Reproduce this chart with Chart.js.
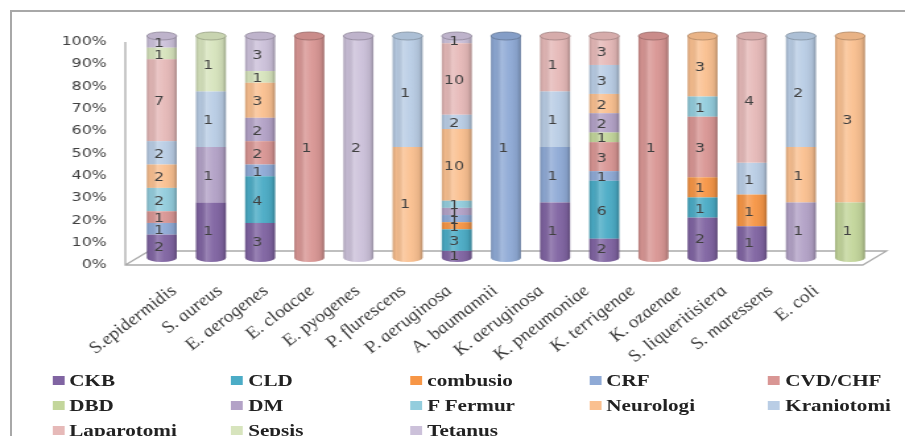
<!DOCTYPE html>
<html>
<head>
<meta charset="utf-8">
<script src="https://cdn.jsdelivr.net/npm/chart.js@4/dist/chart.umd.min.js"></script>
<style>
  html, body { margin: 0; padding: 0; background: #fff; overflow: hidden; width: 905px; height: 436px; }
  #frame { position: absolute; left: 10px; top: 10px; width: 1000px; height: 1000px;
           border-left: 2px solid #A8A8A8; border-top: 2px solid #A8A8A8; }
  #stage { position: absolute; left: 0; top: 0; width: 686px; height: 436px;
           transform-origin: 0 0; transform: scaleX(1.3192); }
  #chart { position: absolute; left: 0; top: 0; }
  #legend { position: absolute; left: 0; top: 0; width: 686px; height: 436px;
            font: bold 16px "Liberation Serif", serif; color: #222; }
  .item { position: absolute; white-space: nowrap; height: 20px; line-height: 20px; }
  .sw { position: absolute; left: 0; top: 5px; width: 9px; height: 9px; }
  .tx { position: absolute; left: 13px; top: 0; }
</style>
</head>
<body>
<div id="frame"></div>
<div id="stage">
  <canvas id="chart" width="686" height="436"></canvas>
  <div id="legend"></div>
</div>
<script>
// Bacteria isolated, split by patient group (counts per group)
const categories = ['S.epidermidis', 'S. aureus', 'E. aerogenes', 'E. cloacae', 'E. pyogenes',
  'P. flurescens', 'P. aeruginosa', 'A. baumannii', 'K. aeruginosa', 'K. pneumoniae',
  'K. terrigenae', 'K. ozaenae', 'S. liqueritisiera', 'S. maressens', 'E. coli'];

const CKB        = [2, 1, 3, 0, 0, 0, 1, 0, 1, 2, 0, 2, 1, 0, 0];
const CLD        = [0, 0, 4, 0, 0, 0, 3, 0, 0, 6, 0, 1, 0, 0, 0];
const combusio   = [0, 0, 0, 0, 0, 0, 1, 0, 0, 0, 0, 1, 1, 0, 0];
const CRF        = [1, 0, 1, 0, 0, 0, 1, 1, 1, 1, 0, 0, 0, 0, 0];
const CVD_CHF    = [1, 0, 2, 1, 0, 0, 0, 0, 0, 3, 1, 3, 0, 0, 0];
const DBD        = [0, 0, 0, 0, 0, 0, 0, 0, 0, 1, 0, 0, 0, 0, 1];
const DM         = [0, 1, 2, 0, 0, 0, 1, 0, 0, 2, 0, 0, 0, 1, 0];
const F_Fermur   = [2, 0, 0, 0, 0, 0, 1, 0, 0, 0, 0, 1, 0, 0, 0];
const Neurologi  = [2, 0, 3, 0, 0, 1, 10, 0, 0, 2, 0, 3, 0, 1, 3];
const Kraniotomi = [2, 1, 0, 0, 0, 1, 2, 0, 1, 3, 0, 0, 1, 2, 0];
const Laparotomi = [7, 0, 0, 0, 0, 0, 10, 0, 1, 3, 0, 0, 4, 0, 0];
const Sepsis     = [1, 1, 1, 0, 0, 0, 0, 0, 0, 0, 0, 0, 0, 0, 0];
const Tetanus    = [1, 0, 3, 0, 2, 0, 1, 0, 0, 0, 0, 0, 0, 0, 0];

const seriesNames = ['CKB', 'CLD', 'combusio', 'CRF', 'CVD/CHF', 'DBD', 'DM', 'F Fermur',
  'Neurologi', 'Kraniotomi', 'Laparotomi', 'Sepsis', 'Tetanus'];
const seriesValues = [CKB, CLD, combusio, CRF, CVD_CHF, DBD, DM, F_Fermur,
  Neurologi, Kraniotomi, Laparotomi, Sepsis, Tetanus];
const seriesColors = ['#8064A2', '#4BACC6', '#F79646', '#8FAAD6', '#D99694', '#C3D69B', '#B3A2C7',
  '#93CDDD', '#FAC090', '#B9CDE5', '#E6B9B8', '#D7E4BD', '#CCC1DA'];

const percentTicks = [0, 10, 20, 30, 40, 50, 60, 70, 80, 90, 100];

// column totals, used to turn counts into shares of 100%
const totals = categories.map((_, i) => seriesValues.reduce((s, arr) => s + arr[i], 0));

// floor depth of the 3-D box and the height of the cylinder end caps
const depth = { dx: 18, dy: 14 };
const capRy = 4;
const labelShift = 0.235;

function mix(hex, target, t) {
  const p = h => [1, 3, 5].map(o => parseInt(h.slice(o, o + 2), 16));
  const a = p(hex), b = p(target);
  const c = a.map((v, j) => Math.round(v + (b[j] - v) * t));
  return `rgb(${c[0]},${c[1]},${c[2]})`;
}

const floorBox = {
  id: 'floorBox',
  beforeDatasetsDraw(chart) {
    const { ctx, chartArea: a, scales: { y } } = chart;
    const yTop = y.getPixelForValue(100), yBot = y.getPixelForValue(0);
    const fl = a.left - depth.dx / 2, fr = a.right - depth.dx / 2;
    const bl = a.left + depth.dx / 2, br = a.right + depth.dx / 2;
    const by = yBot - depth.dy;
    ctx.save();
    ctx.strokeStyle = '#ABABAB';
    ctx.lineWidth = 1.3;
    ctx.beginPath();
    ctx.moveTo(fl, yTop);
    ctx.lineTo(fl, yBot);
    ctx.lineTo(fr, yBot);
    ctx.lineTo(br, by);
    ctx.lineTo(bl, by);
    ctx.lineTo(fl, yBot);
    ctx.stroke();
    ctx.restore();
  }
};

const cylinders = {
  id: 'cylinders',
  afterDatasetsDraw(chart) {
    const ctx = chart.ctx;
    const sets = chart.data.datasets;
    categories.forEach((_, i) => {
      const parts = [];
      sets.forEach((ds, k) => {
        if (ds.counts[i] > 0) parts.push({ bar: chart.getDatasetMeta(k).data[i], color: ds.backgroundColor });
      });
      if (!parts.length) return;
      const first = parts[0].bar, last = parts[parts.length - 1].bar;
      const cx = first.x, rx = first.width / 2;
      const base = first.base, top = last.y;
      ctx.save();
      // rounded bottom
      ctx.beginPath();
      ctx.ellipse(cx, base, rx, capRy, 0, 0, Math.PI);
      ctx.fillStyle = parts[0].color;
      ctx.fill();
      // side shading of the cylinder
      ctx.beginPath();
      ctx.moveTo(cx - rx, top);
      ctx.lineTo(cx + rx, top);
      ctx.lineTo(cx + rx, base);
      ctx.ellipse(cx, base, rx, capRy, 0, 0, Math.PI);
      ctx.closePath();
      const g = ctx.createLinearGradient(cx - rx, 0, cx + rx, 0);
      g.addColorStop(0, 'rgba(0,0,0,0.16)');
      g.addColorStop(0.12, 'rgba(0,0,0,0.04)');
      g.addColorStop(0.35, 'rgba(255,255,255,0.20)');
      g.addColorStop(0.6, 'rgba(255,255,255,0.04)');
      g.addColorStop(0.88, 'rgba(0,0,0,0.08)');
      g.addColorStop(1, 'rgba(0,0,0,0.26)');
      ctx.fillStyle = g;
      ctx.fill();
      // top cap
      const topColor = parts[parts.length - 1].color;
      ctx.beginPath();
      ctx.ellipse(cx, top, rx, capRy, 0, 0, Math.PI * 2);
      ctx.fillStyle = mix(topColor, '#000000', 0.07);
      ctx.fill();
      ctx.strokeStyle = mix(topColor, '#000000', 0.3);
      ctx.lineWidth = 0.8;
      ctx.stroke();
      ctx.restore();
    });
    // counts written on each segment
    ctx.save();
    ctx.font = '12px "DejaVu Sans"';
    ctx.fillStyle = '#404040';
    ctx.textAlign = 'center';
    ctx.textBaseline = 'middle';
    sets.forEach((ds, k) => {
      chart.getDatasetMeta(k).data.forEach((bar, i) => {
        const n = ds.counts[i];
        if (n > 0) ctx.fillText(String(n), bar.x - 2, (bar.y + bar.base) / 2 + 2);
      });
    });
    ctx.restore();
  }
};

Chart.defaults.font.family = '"DejaVu Sans", sans-serif';

const chart = new Chart(document.getElementById('chart'), {
  type: 'bar',
  data: {
    labels: categories,
    datasets: seriesValues.map((vals, k) => ({
      label: seriesNames[k],
      counts: vals,
      data: vals.map((v, i) => v / totals[i] * 100),
      backgroundColor: seriesColors[k],
      borderWidth: 0,
      barPercentage: 0.61,
      categoryPercentage: 1,
      xAxisID: 'xb',
      yAxisID: 'yb',
      clip: false
    }))
  },
  options: {
    responsive: false,
    animation: false,
    layout: { padding: { top: 42, right: 23, bottom: 0, left: 0 } },
    plugins: { legend: { display: false }, tooltip: { enabled: false } },
    scales: {
      xb: { type: 'category', stacked: true, display: false },
      yb: { type: 'linear', stacked: true, display: false, min: -3.15, max: 97.3 },
      x: {
        type: 'linear', position: 'bottom', bounds: 'data',
        min: -0.5 + labelShift, max: categories.length - 0.5 + labelShift,
        grid: { display: false, drawTicks: false },
        border: { display: false },
        afterBuildTicks: s => { s.ticks = categories.map((_, i) => ({ value: i })); },
        afterFit: s => { s.height = 171; },
        ticks: {
          autoSkip: false, minRotation: 45, maxRotation: 45, padding: 17,
          color: '#3a3a3a',
          font: { family: '"Liberation Serif", serif', style: 'italic', size: 16 },
          callback: (v) => Number.isInteger(v) ? categories[v] : ''
        }
      },
      y: {
        type: 'linear', position: 'left', min: 0, max: 100,
        grid: { display: false, drawTicks: false },
        border: { display: false },
        afterBuildTicks: s => { s.ticks = percentTicks.map(v => ({ value: v })); },
        afterFit: s => { s.width = 104; },
        ticks: {
          padding: 23, color: '#404040',
          font: { family: '"DejaVu Sans", sans-serif', size: 12 },
          callback: v => v + '%'
        }
      }
    }
  },
  plugins: [floorBox, cylinders]
});

// five-column legend under the chart
const legend = document.getElementById('legend');
chart.data.datasets.forEach((ds, k) => {
  const col = k % 5, row = Math.floor(k / 5);
  const item = document.createElement('div');
  item.className = 'item';
  item.style.left = (39.5 + col * 135.7) + 'px';
  item.style.top = (371 + row * 25) + 'px';
  const sw = document.createElement('span');
  sw.className = 'sw';
  sw.style.background = ds.backgroundColor;
  const tx = document.createElement('span');
  tx.className = 'tx';
  tx.textContent = ds.label;
  item.appendChild(sw);
  item.appendChild(tx);
  legend.appendChild(item);
});
</script>
</body>
</html>
